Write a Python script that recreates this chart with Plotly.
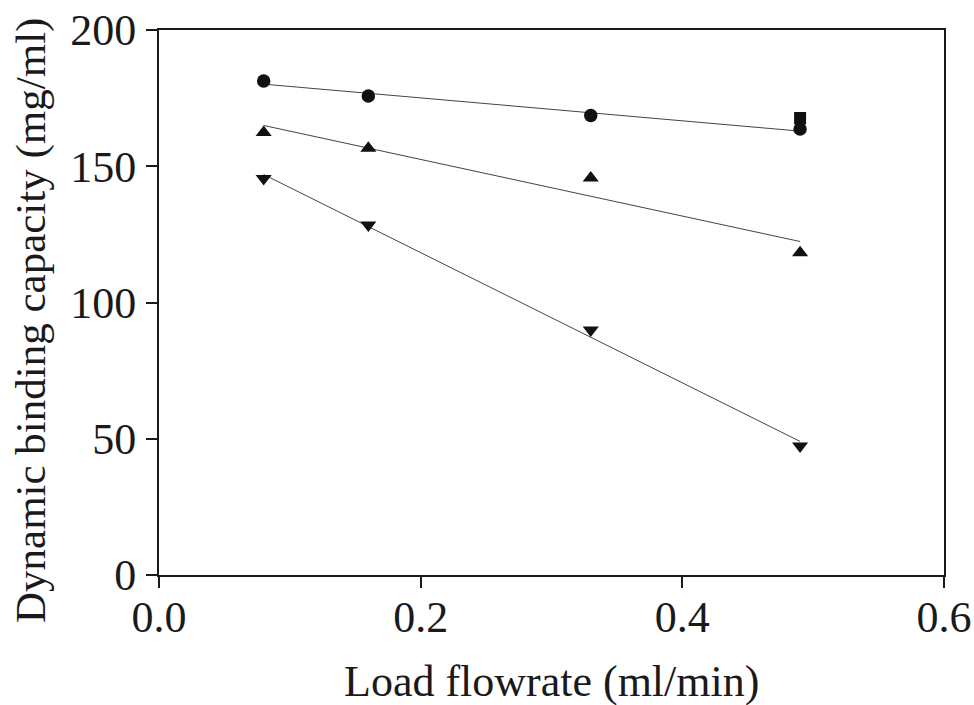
import numpy as np
import plotly.graph_objects as go

flowrate = [0.08, 0.16, 0.33, 0.49]
dbc_circle = [181.3, 175.8, 168.6, 163.7]
dbc_tri_up = [162.4, 156.6, 145.7, 118.3]
dbc_tri_down = [145.5, 128.4, 89.9, 47.3]
square_x = [0.49]
square_y = [167.7]

x_ticks = [0.0, 0.2, 0.4, 0.6]
x_tick_labels = ["0.0", "0.2", "0.4", "0.6"]
y_ticks = [0, 50, 100, 150, 200]
y_tick_labels = ["0", "50", "100", "150", "200"]

FONT = "Liberation Serif"
MARK = "#111111"
LINE = "#444444"

fig = go.Figure()

series = [(dbc_circle, "circle", 13.5), (dbc_tri_up, "triangle-up", 14), (dbc_tri_down, "triangle-down", 14)]
xs = np.array(flowrate)
for ys, sym, sz in series:
    k, b = np.polyfit(xs, np.array(ys), 1)
    xf = np.array([xs.min(), xs.max()])
    fig.add_trace(go.Scatter(x=xf, y=k * xf + b, mode="lines",
                             line=dict(color=LINE, width=1), showlegend=False, hoverinfo="skip"))

fig.add_trace(go.Scatter(x=square_x, y=square_y, mode="markers",
                         marker=dict(symbol="square", size=12, color=MARK), showlegend=False))
for ys, sym, sz in series:
    fig.add_trace(go.Scatter(x=flowrate, y=ys, mode="markers",
                             marker=dict(symbol=sym, size=sz, color=MARK), showlegend=False))

axis_common = dict(showgrid=False, zeroline=False, showline=True, linecolor="#1a1a1a", linewidth=2,
                   mirror=True, ticks="outside", ticklen=11, tickwidth=2, tickcolor="#1a1a1a",
                   automargin=False,
                   tickfont=dict(family=FONT, size=44, color="#1a1a1a"))

fig.update_xaxes(range=[0, 0.6], tickvals=x_ticks, ticktext=x_tick_labels, ticklabelstandoff=-9, **axis_common)
fig.update_yaxes(range=[0, 200], tickvals=y_ticks, ticktext=y_tick_labels, ticklabelstandoff=1, **axis_common)

fig.add_annotation(text="Load flowrate (ml/min)", xref="paper", yref="paper", x=0.5, y=0,
                   xanchor="center", yanchor="middle", yshift=-106, showarrow=False,
                   font=dict(family=FONT, size=44, color="#1a1a1a"))
fig.add_annotation(text="Dynamic binding capacity (mg/ml)", xref="paper", yref="paper", x=0,
                   y=(575 - 321) / 545, xanchor="center", yanchor="middle", xshift=-128,
                   textangle=-90, showarrow=False,
                   font=dict(family=FONT, size=43, color="#1a1a1a"))

fig.update_layout(width=974, height=705, margin=dict(l=159, r=30, t=30, b=130),
                  paper_bgcolor="white", plot_bgcolor="white")

fig.write_html("out.html")
